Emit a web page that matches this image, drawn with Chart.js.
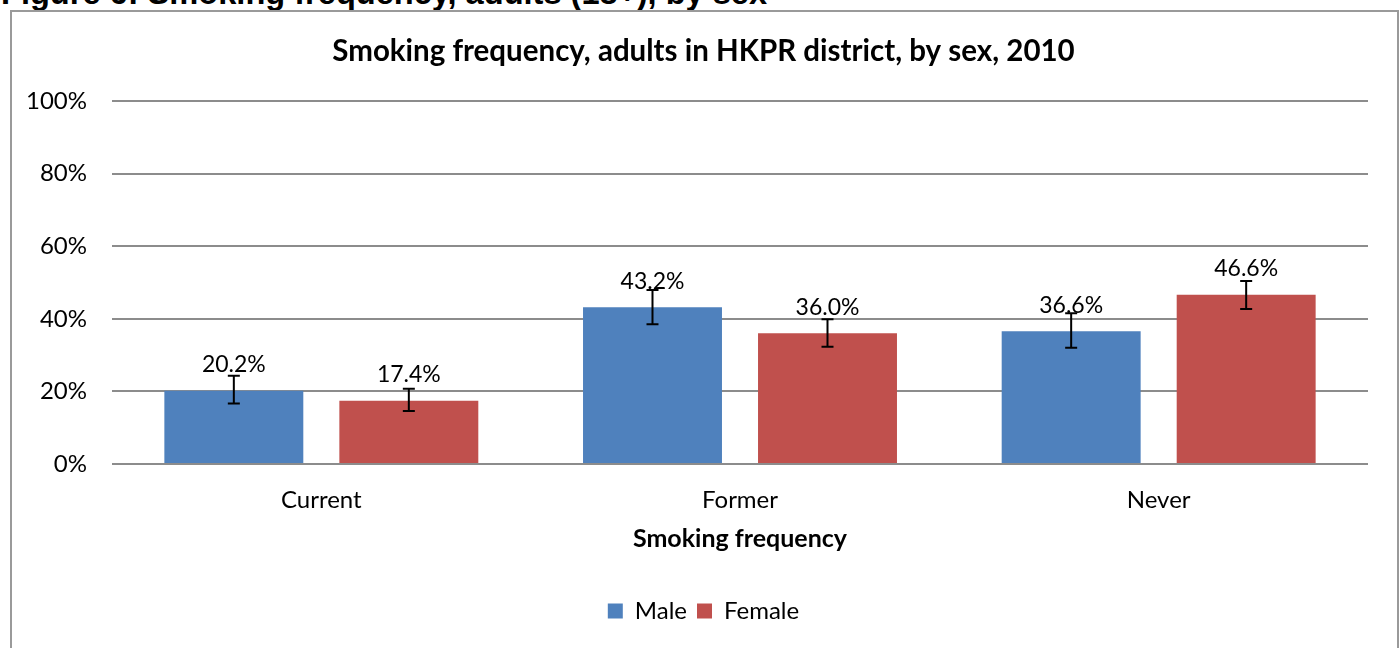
<!DOCTYPE html>
<html>
<head>
<meta charset="utf-8">
<script src="https://cdn.jsdelivr.net/npm/chart.js@4.4.0/dist/chart.umd.min.js"></script>
<style>
  html, body { margin: 0; padding: 0; background: #fff; overflow: hidden; }
  body { width: 1400px; height: 648px; position: relative; }
  #caption { position: absolute; left: 1px; top: -23px; font-family: "Liberation Sans", Arial, sans-serif; font-weight: bold; font-size: 32.6px; line-height: 32px; white-space: nowrap; color: #000; }
  #frame { position: absolute; left: 10px; top: 10px; width: 1389px; height: 660px; border: 2px solid #9a9a9a; box-sizing: border-box; }
  #wrap { position: absolute; left: 0; top: 0; width: 1400px; height: 648px; }
</style>
</head>
<body>
<div id="caption">Figure 6: Smoking frequency, adults (18+), by sex</div>
<div id="frame"></div>
<div id="wrap"><canvas id="c" width="1400" height="648"></canvas></div>
<script>
const categories = ["Current", "Former", "Never"];
const maleValues = [20.2, 43.2, 36.6];
const femaleValues = [17.4, 36.0, 46.6];
const maleErrLow = [16.7, 38.5, 32.0];
const maleErrHigh = [24.3, 47.9, 41.5];
const femaleErrLow = [14.6, 32.3, 42.7];
const femaleErrHigh = [20.7, 39.9, 50.4];
const yTicks = [0, 20, 40, 60, 80, 100];

const FONT = "Lato, 'Noto Sans', sans-serif";

const errorBarsAndLabels = {
  id: 'errorBarsAndLabels',
  afterDatasetsDraw(chart) {
    const ctx = chart.ctx;
    const y = chart.scales.y;
    chart.data.datasets.forEach((ds, di) => {
      const meta = chart.getDatasetMeta(di);
      meta.data.forEach((el, i) => {
        const lo = y.getPixelForValue(ds.errLow[i]);
        const hi = y.getPixelForValue(ds.errHigh[i]);
        ctx.save();
        ctx.strokeStyle = '#000';
        ctx.lineWidth = 2;
        ctx.beginPath();
        ctx.moveTo(el.x, lo); ctx.lineTo(el.x, hi);
        ctx.moveTo(el.x - 6, lo); ctx.lineTo(el.x + 6, lo);
        ctx.moveTo(el.x - 6, hi); ctx.lineTo(el.x + 6, hi);
        ctx.stroke();
        ctx.fillStyle = '#000';
        ctx.font = "23px " + FONT;
        ctx.textAlign = 'center';
        ctx.textBaseline = 'middle';
        ctx.fillText(ds.data[i].toFixed(1) + '%', el.x, el.y - 26);
        ctx.restore();
      });
    });
  }
};

new Chart(document.getElementById('c'), {
  type: 'bar',
  data: {
    labels: categories,
    datasets: [
      { label: 'Male', data: maleValues, errLow: maleErrLow, errHigh: maleErrHigh, backgroundColor: '#4F81BD' },
      { label: 'Female', data: femaleValues, errLow: femaleErrLow, errHigh: femaleErrHigh, backgroundColor: '#C0504D' }
    ]
  },
  options: {
    responsive: false,
    animation: false,
    devicePixelRatio: 1,
    layout: { padding: { left: 10, right: 3, top: 0, bottom: 15 } },
    datasets: { bar: { categoryPercentage: 0.836, barPercentage: 0.794 } },
    plugins: {
      title: {
        display: true,
        text: 'Smoking frequency, adults in HKPR district, by sex, 2010',
        color: '#000',
        font: { family: FONT, size: 29.5, weight: 'bold', lineHeight: 1.2 },
        padding: { top: 33.5, bottom: 32.1 }
      },
      legend: {
        position: 'bottom',
        labels: {
          color: '#000',
          boxWidth: 15, boxHeight: 15,
          font: { family: FONT, size: 24 },
          padding: 10
        }
      },
      tooltip: { enabled: false }
    },
    scales: {
      x: {
        grid: { display: false },
        border: { display: false },
        ticks: { color: '#000', font: { family: FONT, size: 24 }, padding: 14 },
        title: { display: true, text: 'Smoking frequency', color: '#000', font: { family: FONT, size: 25, weight: 'bold' }, padding: { top: 4, bottom: 35 } },
        afterFit(s) { s.height = 125; }
      },
      y: {
        min: 0, max: 100,
        afterBuildTicks(s) { s.ticks = yTicks.map(v => ({ value: v })); },
        grid: { color: '#8c8c8c', lineWidth: 2, drawTicks: false },
        border: { display: false },
        ticks: { color: '#000', font: { family: FONT, size: 24 }, padding: 25, callback: v => v + '%' },
        afterFit(s) { s.width = 102; }
      },
      yRightSpacer: {
        position: 'right',
        display: true,
        grid: { display: false, drawTicks: false },
        border: { display: false },
        ticks: { display: false },
        afterFit(s) { s.width = 29; }
      }
    }
  },
  plugins: [errorBarsAndLabels]
});
</script>
</body>
</html>
